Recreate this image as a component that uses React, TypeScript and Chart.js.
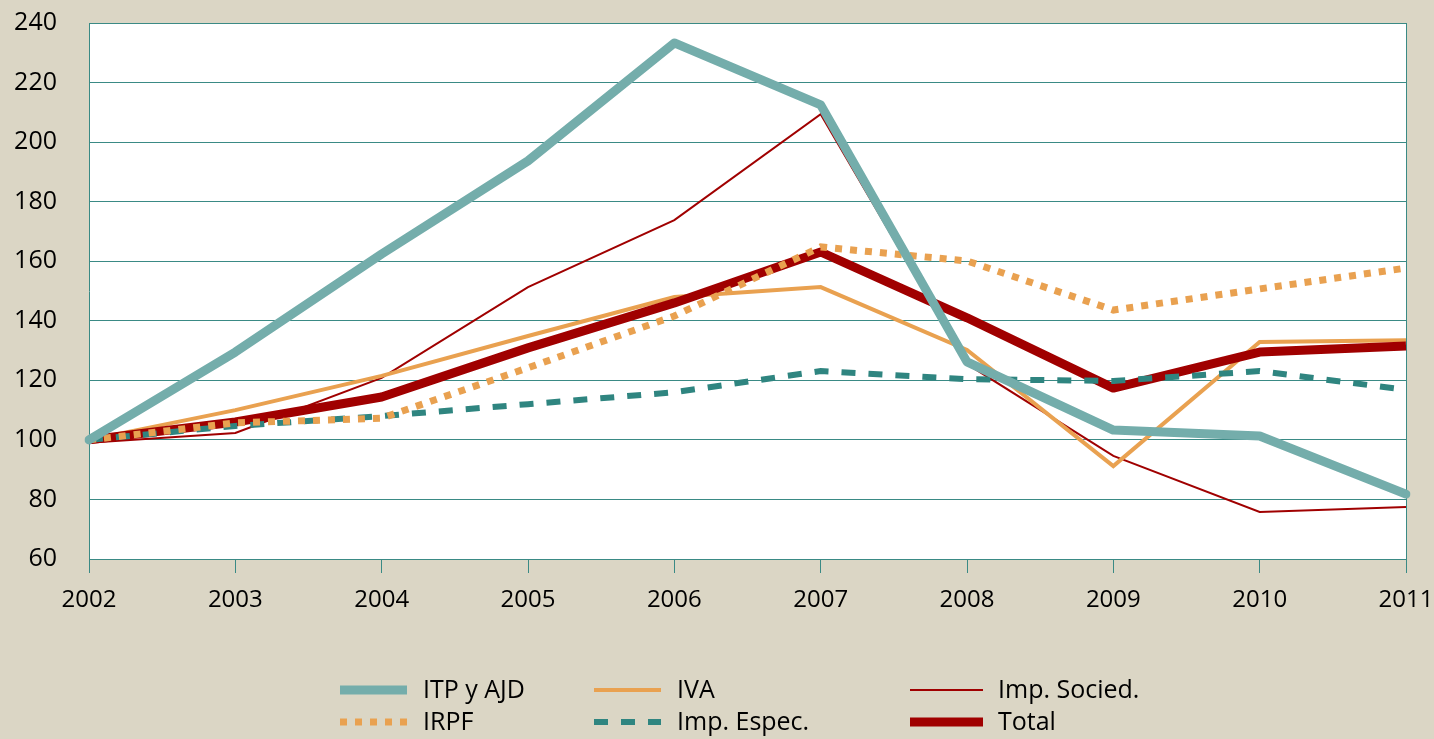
import React, { useEffect, useRef } from "react";
import { Chart, registerables } from "chart.js";

Chart.register(...registerables);

const years = ["2002", "2003", "2004", "2005", "2006", "2007", "2008", "2009", "2010", "2011"];
const itpAjd = [100, 129.5, 162.4, 193.7, 233.3, 212.5, 126.2, 103.3, 101.3, 81.8];
const irpf = [100, 105.7, 107.3, 124.2, 141.6, 164.8, 160.1, 143.6, 150.7, 157.7];
const iva = [100, 110, 121.5, 134.9, 148, 151.3, 130.2, 91.2, 132.9, 133.5];
const impEspec = [100, 104.7, 108, 112, 116, 123.1, 120.4, 119.8, 123.1, 116.8];
const impSocied = [99, 102.3, 120.8, 151.3, 173.8, 209.4, 125.5, 94.6, 75.8, 77.5];
const total = [100, 106, 114.4, 130.9, 146, 163.1, 141, 117.4, 129.5, 131.5];

const BG = "#DBD6C5";
const GRID = "#3A8A85";
const FONT = "'Open Sans', sans-serif";

// legend layout: [datasetIndex, lineStartX, lineEndX, textX, y]
const legendItems: [number, number, number, number, number][] = [
  [0, 340, 407, 423, 690],
  [1, 340, 407, 423, 722],
  [2, 594, 661, 677, 690],
  [3, 594, 661, 677, 722],
  [4, 910, 983, 998, 690],
  [5, 910, 983, 998, 722],
];

const bgPlugin = {
  id: "bgPlugin",
  beforeDraw(chart: any) {
    const { ctx, chartArea } = chart;
    ctx.save();
    ctx.fillStyle = BG;
    ctx.fillRect(0, 0, chart.width, chart.height);
    ctx.fillStyle = "#FFFFFF";
    ctx.fillRect(chartArea.left, chartArea.top, chartArea.right - chartArea.left, chartArea.bottom - chartArea.top);
    ctx.restore();
  },
  beforeDatasetsDraw(chart: any) {
    const { ctx, chartArea } = chart;
    ctx.save();
    ctx.strokeStyle = GRID;
    ctx.lineWidth = 1;
    ctx.beginPath();
    const x = Math.round(chartArea.right) + 0.5;
    ctx.moveTo(x, chartArea.top);
    ctx.lineTo(x, chartArea.bottom + 14);
    ctx.stroke();
    ctx.restore();
  },
  afterDraw(chart: any) {
    const { ctx } = chart;
    ctx.save();
    for (const [di, x1, x2, tx, y] of legendItems) {
      const ds = chart.data.datasets[di];
      ctx.strokeStyle = ds.borderColor;
      ctx.lineWidth = ds.borderWidth;
      ctx.setLineDash(ds.borderDash || []);
      ctx.lineCap = "butt";
      ctx.beginPath();
      ctx.moveTo(x1, y);
      ctx.lineTo(x2, y);
      ctx.stroke();
      ctx.setLineDash([]);
      ctx.fillStyle = "#000";
      ctx.font = `25px ${FONT}`;
      ctx.textBaseline = "middle";
      ctx.textAlign = "left";
      ctx.fillText(ds.label, tx, y + 1);
    }
    ctx.restore();
  },
};

export default function App() {
  const ref = useRef<HTMLCanvasElement>(null);
  useEffect(() => {
    if (!ref.current) return;
    const chart = new Chart(ref.current, {
      type: "line",
      data: {
        labels: years,
        datasets: [
          { label: "ITP y AJD", data: itpAjd, borderColor: "#74ADAB", borderWidth: 9, borderCapStyle: "round", borderJoinStyle: "round", order: 0 },
          { label: "IRPF", data: irpf, borderColor: "#E9A150", borderWidth: 7, borderDash: [7, 8], order: 1 },
          { label: "IVA", data: iva, borderColor: "#E9A150", borderWidth: 4, order: 4 },
          { label: "Imp. Espec.", data: impEspec, borderColor: "#2F8580", borderWidth: 6, borderDash: [14, 13], order: 2 },
          { label: "Imp. Socied.", data: impSocied, borderColor: "#A00000", borderWidth: 2, order: 5 },
          { label: "Total", data: total, borderColor: "#A00000", borderWidth: 9, borderJoinStyle: "round", order: 3 },
        ] as any,
      },
      options: {
        responsive: false,
        animation: false,
        devicePixelRatio: 1,
        layout: { padding: { left: 0, right: 28, top: 23, bottom: 0 } },
        elements: { point: { radius: 0 }, line: { tension: 0 } },
        plugins: { legend: { display: false }, tooltip: { enabled: false } },
        scales: {
          x: {
            offset: false,
            grid: { drawOnChartArea: false, drawTicks: true, tickLength: 14, color: GRID, lineWidth: 1 },
            border: { display: true, color: GRID, width: 1 },
            ticks: { font: { family: FONT, size: 24 }, color: "#000", padding: 13, maxRotation: 0, autoSkip: false },
            afterFit: (s: any) => { s.height = 180; s.paddingLeft = 0; s.paddingRight = 0; },
          },
          y: {
            min: 60,
            max: 240,
            grid: { color: GRID, lineWidth: 1, drawTicks: false },
            border: { display: true, color: GRID, width: 1 },
            ticks: { stepSize: 20, font: { family: FONT, size: 25 }, color: "#000", padding: 32 },
            afterFit: (s: any) => { s.width = 89; s.paddingTop = 0; s.paddingBottom = 0; },
          },
        },
      },
      plugins: [bgPlugin],
    });
    return () => chart.destroy();
  }, []);
  return (
    <div style={{ position: "fixed", left: 0, top: 0, width: 1434, height: 739, background: BG }}>
      <canvas ref={ref} width={1434} height={739} style={{ width: 1434, height: 739, display: "block" }} />
    </div>
  );
}
